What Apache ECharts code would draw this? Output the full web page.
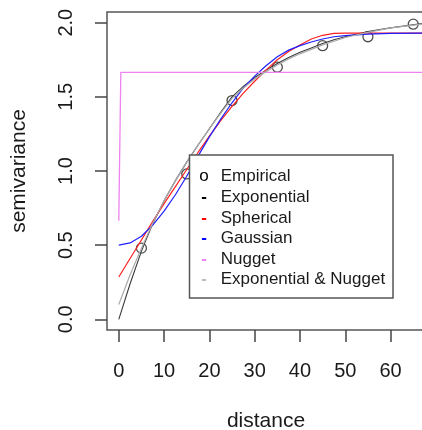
<!DOCTYPE html>
<html lang="en">
<head>
    <meta charset="UTF-8">
    <script src="https://cdn.jsdelivr.net/npm/echarts@6/dist/echarts.min.js"></script>
    <title>Variogram</title>
    <style>
        html, body { margin: 0; padding: 0; background: #fff; }
        #variogram_chart { width: 422px; height: 430px; }
    </style>
</head>
<body>
<div id="variogram_chart"></div>
<script>
    // empirical semivariance
    var empDist = [5, 15, 25, 35, 45, 55, 65];
    var empGamma = [0.48, 0.98, 1.475, 1.70, 1.845, 1.905, 1.99];

    // fitted model lines
    var lineDist     = [0, 2.5, 5, 7.5, 10, 12.5, 15, 17.5, 20, 22.5, 25, 27.5, 30, 32.5, 35, 37.5, 40, 42.5, 45, 47.5, 50, 55, 60, 67];
    var expGamma     = [0, 0.24, 0.46, 0.645, 0.80, 0.935, 1.06, 1.175, 1.285, 1.395, 1.50, 1.57, 1.63, 1.68, 1.725, 1.765, 1.80, 1.83, 1.86, 1.885, 1.905, 1.94, 1.965, 1.995];
    var sphGamma     = [0.285, 0.41, 0.535, 0.66, 0.78, 0.895, 1.01, 1.125, 1.235, 1.34, 1.435, 1.525, 1.605, 1.68, 1.75, 1.805, 1.85, 1.89, 1.915, 1.928, 1.93, 1.93, 1.93, 1.93];
    var gauGamma     = [0.5, 0.515, 0.56, 0.635, 0.73, 0.84, 0.965, 1.10, 1.23, 1.35, 1.46, 1.56, 1.64, 1.71, 1.77, 1.815, 1.845, 1.87, 1.89, 1.905, 1.913, 1.923, 1.928, 1.93];
    var expNugGamma  = [0.10, 0.30, 0.48, 0.65, 0.80, 0.935, 1.06, 1.175, 1.285, 1.39, 1.49, 1.56, 1.62, 1.67, 1.715, 1.755, 1.79, 1.82, 1.85, 1.875, 1.90, 1.935, 1.965, 1.99];
    var nugDist      = [0, 0.45, 67];
    var nugGamma     = [0.665, 1.665, 1.665];

    var xTicks = [0, 10, 20, 30, 40, 50, 60];
    var yTicks = [0, 0.5, 1, 1.5, 2];

    var legendNames  = ['Empirical', 'Exponential', 'Spherical', 'Gaussian', 'Nugget', 'Exponential & Nugget'];
    var legendMarks  = ['o', '-', '-', '-', '-', '-'];
    var legendColors = ['#000000', '#000000', '#ff0000', '#0000ff', '#ee82ee', '#bebebe'];

    function pairs(xs, ys) {
        return xs.map(function (x, i) { return [x, ys[i]]; });
    }

    var font = 'Liberation Sans, Arial, sans-serif';

    var legendItems = [{
        type: 'rect',
        shape: { x: 189.5, y: 155, width: 203.5, height: 143 },
        style: { fill: '#fff', stroke: '#555', lineWidth: 1.5 },
        z: 100
    }];
    legendNames.forEach(function (name, i) {
        var cy = 176.7 + i * 20.6;
        legendItems.push({
            type: 'text', x: 204, y: cy, z: 101,
            style: { text: legendMarks[i], fill: legendColors[i], font: (i === 0 ? '17px ' : 'bold 17px ') + font, align: 'center', verticalAlign: 'middle' }
        });
        legendItems.push({
            type: 'text', x: 220.7, y: cy, z: 101,
            style: { text: name, fill: '#1a1a1a', font: '17px ' + font, align: 'left', verticalAlign: 'middle' }
        });
    });

    var chartVario = echarts.init(document.getElementById('variogram_chart'), null, { renderer: 'canvas' });

    var option = {
        animation: false,
        grid: {
            left: 107, top: 12, width: 318, height: 318,
            containLabel: false, outerBoundsMode: 'none',
            show: true, borderColor: '#555', borderWidth: 1.5
        },
        xAxis: {
            type: 'value', min: -2.6, max: 67.6,
            axisLine: { show: false, onZero: false },
            splitLine: { show: false },
            axisTick: { show: true, length: 12, customValues: xTicks, lineStyle: { color: '#444', width: 1.5 } },
            axisLabel: { customValues: xTicks, fontSize: 20, color: '#1a1a1a', fontFamily: font, margin: 31 },
            name: 'distance', nameLocation: 'middle', nameGap: 81,
            nameTextStyle: { fontSize: 21, color: '#1a1a1a', fontFamily: font }
        },
        yAxis: {
            type: 'value', min: -0.072, max: 2.072,
            axisLine: { show: false, onZero: false },
            splitLine: { show: false },
            axisTick: { show: true, length: 12, customValues: yTicks, lineStyle: { color: '#444', width: 1.5 } },
            axisLabel: {
                customValues: yTicks, rotate: 90, fontSize: 20, color: '#1a1a1a', fontFamily: font, margin: 31,
                formatter: function (v) { return v.toFixed(1); }
            },
            name: 'semivariance', nameLocation: 'middle', nameGap: 77,
            nameTextStyle: { fontSize: 21, color: '#1a1a1a', fontFamily: font }
        },
        graphic: legendItems,
        series: [
            {
                name: 'Empirical', type: 'scatter', symbol: 'circle', symbolSize: 10,
                itemStyle: { color: 'rgba(0,0,0,0)', borderColor: '#222', borderWidth: 1.3 },
                data: pairs(empDist, empGamma)
            },
            {
                name: 'Exponential', type: 'line', showSymbol: false,
                lineStyle: { color: '#3a3a3a', width: 1.1 },
                data: pairs(lineDist, expGamma)
            },
            {
                name: 'Spherical', type: 'line', showSymbol: false,
                lineStyle: { color: '#ff2020', width: 1.2 },
                data: pairs(lineDist, sphGamma)
            },
            {
                name: 'Gaussian', type: 'line', showSymbol: false,
                lineStyle: { color: '#2020ff', width: 1.2 },
                data: pairs(lineDist, gauGamma)
            },
            {
                name: 'Nugget', type: 'line', showSymbol: false,
                lineStyle: { color: '#ee82ee', width: 1.3 },
                data: pairs(nugDist, nugGamma)
            },
            {
                name: 'Exponential & Nugget', type: 'line', showSymbol: false,
                lineStyle: { color: '#aaaaaa', width: 1.2 },
                data: pairs(lineDist, expNugGamma)
            }
        ]
    };

    chartVario.setOption(option);

    window.addEventListener('resize', function () {
        if (chartVario != null && chartVario != undefined) {
            chartVario.resize();
        }
    });
</script>
</body>
</html>
